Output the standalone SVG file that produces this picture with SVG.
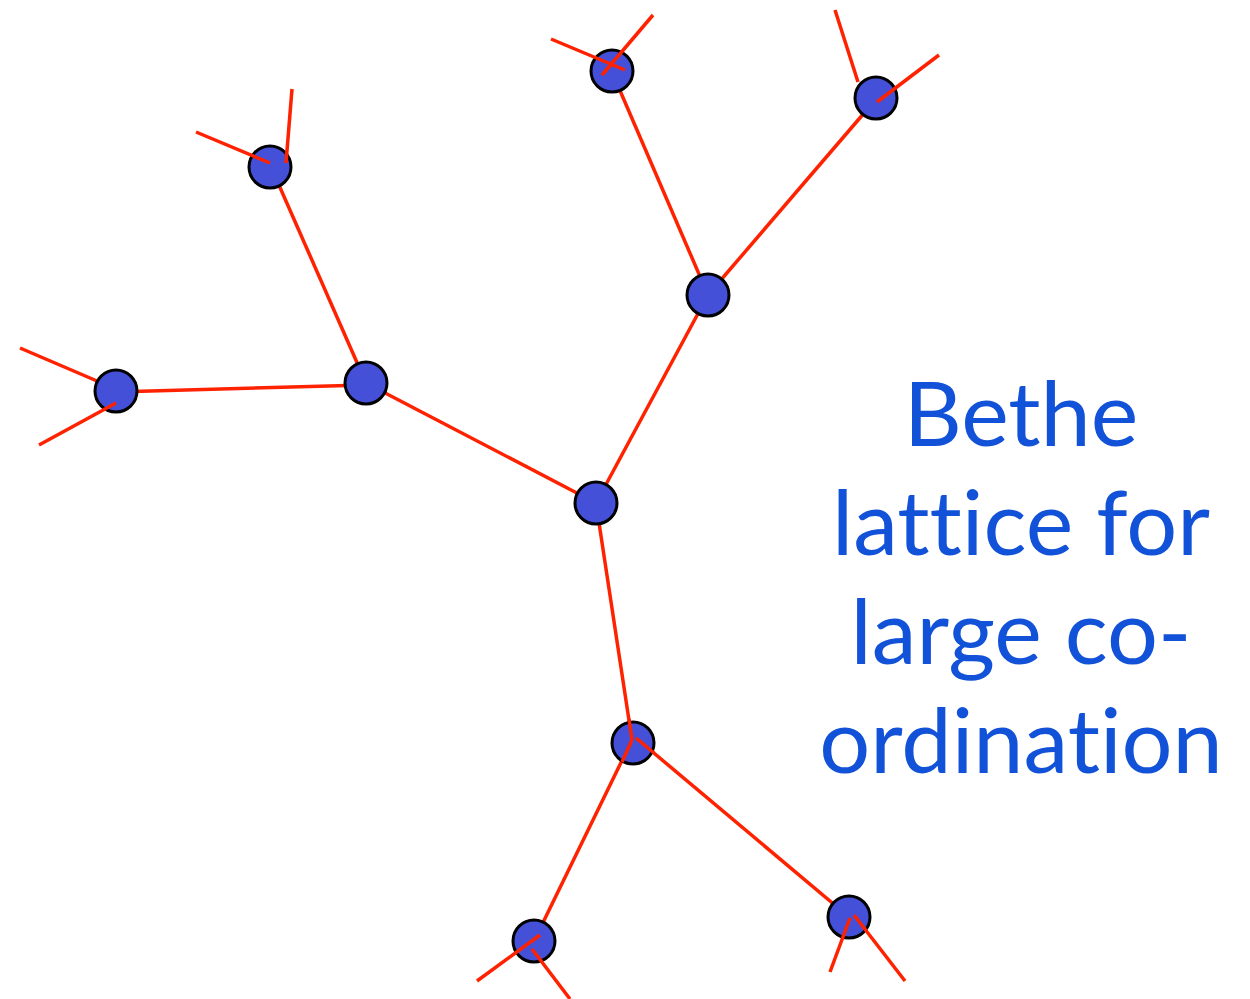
<svg xmlns="http://www.w3.org/2000/svg" width="1250" height="999" viewBox="0 0 1250 999">
<style>
.e{stroke:#ff2200;stroke-width:3.5;stroke-linecap:butt;fill:none}
.n{fill:#4450d8;stroke:#000;stroke-width:3}
.t{font-family:Lato,"Open Sans",sans-serif;font-size:90px;fill:#1252d8;text-anchor:middle;font-variant-ligatures:none;font-feature-settings:"liga" 0,"clig" 0}
</style>
<rect width="1250" height="999" fill="#fff"/>
<g id="connectors">
<line class="e" x1="115" y1="392" x2="366" y2="385"/>
<line class="e" x1="366" y1="383" x2="271" y2="167"/>
<line class="e" x1="366" y1="383" x2="596" y2="503"/>
<line class="e" x1="596" y1="503" x2="708" y2="295"/>
<line class="e" x1="708" y1="295" x2="612" y2="72"/>
<line class="e" x1="708" y1="295" x2="877" y2="98"/>
<line class="e" x1="596" y1="503" x2="632" y2="740"/>
<line class="e" x1="632" y1="740" x2="534" y2="941"/>
<line class="e" x1="636" y1="738" x2="849" y2="917"/>
<line class="e" x1="835" y1="10" x2="858" y2="82"/>
<line class="e" x1="20" y1="348" x2="97" y2="381"/>
</g>
<g id="node-E"><circle class="n" cx="116" cy="391" r="21"/></g>
<g id="node-F"><circle class="n" cx="366" cy="383" r="21"/></g>
<g id="node-D"><circle class="n" cx="270" cy="167" r="21"/></g>
<g id="node-G"><circle class="n" cx="596" cy="503" r="21"/></g>
<g id="node-B"><circle class="n" cx="708" cy="295" r="21"/></g>
<g id="node-A"><circle class="n" cx="612" cy="71" r="21"/></g>
<g id="node-C"><circle class="n" cx="876" cy="98" r="21"/></g>
<g id="node-H"><circle class="n" cx="633" cy="743" r="21"/></g>
<g id="node-I"><circle class="n" cx="534" cy="941" r="21"/></g>
<g id="node-J"><circle class="n" cx="849" cy="917" r="21"/></g>
<g id="stubs">
<line class="e" x1="551" y1="39" x2="625" y2="70"/>
<line class="e" x1="653" y1="15" x2="602" y2="75"/>
<line class="e" x1="939" y1="55" x2="877" y2="102"/>
<line class="e" x1="196" y1="132" x2="270" y2="163"/>
<line class="e" x1="292" y1="89" x2="286" y2="163"/>
<line class="e" x1="39" y1="445" x2="116" y2="403"/>
<line class="e" x1="477" y1="981" x2="540" y2="935"/>
<line class="e" x1="532" y1="949" x2="570" y2="999"/>
<line class="e" x1="830" y1="972" x2="850" y2="918"/>
<line class="e" x1="854" y1="915" x2="905" y2="981"/>
<line class="e" x1="629" y1="719" x2="632" y2="740"/>
<line class="e" x1="632" y1="740" x2="622" y2="762"/>
<line class="e" x1="636" y1="738" x2="654" y2="753"/>
</g>
<g id="label">
<text class="t" x="1021" y="446">Bethe</text>
<text class="t" x="1021" y="555">lattice for</text>
<text class="t" x="1021" y="664">large co-</text>
<text class="t" x="1021" y="773">ordination</text>
</g>
</svg>
